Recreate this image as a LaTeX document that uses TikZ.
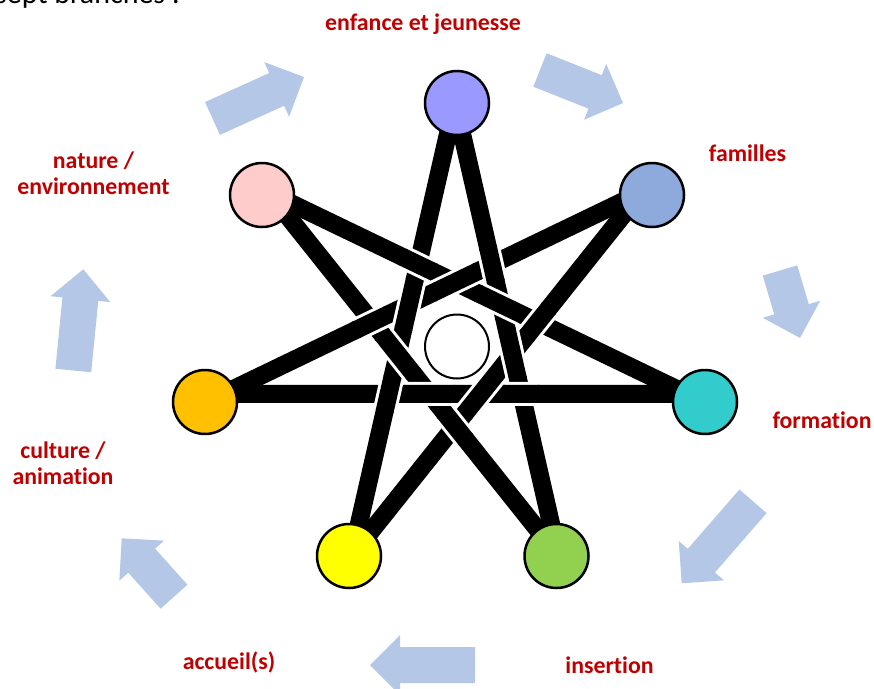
\documentclass[tikz,border=0pt]{standalone}
\usepackage{fontspec}
\setmainfont[Ligatures=NoCommon]{Carlito}
\usetikzlibrary{calc}
\definecolor{labred}{RGB}{192,0,0}
\definecolor{arrblue}{RGB}{180,199,231}
\definecolor{cpurple}{RGB}{153,153,255}
\definecolor{cblue}{RGB}{142,169,219}
\definecolor{cteal}{RGB}{51,204,204}
\definecolor{cgreen}{RGB}{146,208,80}
\definecolor{cyellow}{RGB}{255,255,0}
\definecolor{corange}{RGB}{255,192,0}
\definecolor{cpink}{RGB}{255,204,204}
\newcommand\bluearrow[2]{%
  \path ($(#2)!30pt!(#1)$) coordinate (hb);
  \fill[arrblue] ($(#1)!18pt!90:(#2)$) -- ($(hb)!18pt!90:(#2)$) -- ($(hb)!30pt!90:(#2)$) -- (#2)
    -- ($(hb)!30pt!-90:(#2)$) -- ($(hb)!18pt!-90:(#2)$) -- ($(#1)!18pt!-90:(#2)$) -- cycle;}
\begin{document}
\begin{tikzpicture}[x=1pt,y=-1pt,
  lbl/.style={text=labred, font=\fontsize{23.8}{25.5}\selectfont\bfseries, align=center, inner sep=0pt},
  band/.style={line width=18pt, black},
  casing/.style={line width=24pt, white},
  dot/.style={circle, draw=black, line width=2.5pt, minimum size=64pt, inner sep=0pt}]
\path[use as bounding box] (0,0) rectangle (874,688);
\clip (0,0) rectangle (874,688);

\node[anchor=base west, inner sep=0pt, font=\fontsize{30}{32}\selectfont] (intro) at (-5,4) {sept branches :};

% star vertices
\foreach \k in {0,...,6}
  \coordinate (V\k) at ({455+238*sin(\k*360/7)},{341-238*cos(\k*360/7)});
% bands
\foreach \i in {0,...,6}{
  \pgfmathtruncatemacro\ja{mod(\i+3,7)}
  \draw[casing] (V\i) -- (V\ja);
}
\foreach \i in {0,...,6}{
  \pgfmathtruncatemacro\ja{mod(\i+3,7)}
  \draw[band] (V\i) -- (V\ja);
}
% over crossings
\foreach \i in {0,...,6}{
  \pgfmathtruncatemacro\ja{mod(\i+3,7)}
  \coordinate (XA\i) at ($(V\i)!165.62pt!(V\ja)$);
  \coordinate (XC\i) at ($(V\i)!257.53pt!(V\ja)$);
  \draw[casing] ($(XA\i)!16pt!(V\i)$) -- ($(XA\i)!16pt!(V\ja)$);
  \draw[band] ($(XA\i)!18pt!(V\i)$) -- ($(XA\i)!18pt!(V\ja)$);
  \draw[casing] ($(XC\i)!24pt!(V\i)$) -- ($(XC\i)!24pt!(V\ja)$);
  \draw[band] ($(XC\i)!25.5pt!(V\i)$) -- ($(XC\i)!25.5pt!(V\ja)$);
}

% circles
\node[dot, fill=cpurple] (c0) at (457,103) {};
\node[dot, fill=cblue] (c1) at (652,195) {};
\node[dot, fill=cteal] (c2) at (705,402) {};
\node[dot, fill=cgreen] (c3) at (556.5,556) {};
\node[dot, fill=cyellow] (c4) at (349,556) {};
\node[dot, fill=corange] (c5) at (205,402) {};
\node[dot, fill=cpink] (c6) at (262,195) {};
\node[dot, fill=white, minimum size=64pt, line width=2pt] (ctr) at (457,346.5) {};

% labels
\node[lbl, anchor=base] (l0) at (423,30) {enfance et jeunesse};
\node[lbl, anchor=base] (l1) at (747.5,161.5) {familles};
\node[lbl, anchor=base] (l2) at (822,428) {formation};
\node[lbl, anchor=base] (l3) at (609.5,673.5) {insertion};
\node[lbl, anchor=base] (l4) at (229,669.5) {accueil(s)};
\node[lbl, anchor=base] (l5) at (63,484) {culture /\\animation};
\node[lbl, anchor=base] (l6) at (93.5,194.4) {nature /\\environnement};

% cycle arrows
\coordinate (t1) at (212.5,118.5); \coordinate (h1) at (304,77);
\coordinate (t2) at (540,70);      \coordinate (h2) at (623,103);
\coordinate (t3) at (780,270.5);   \coordinate (h3) at (800,338);
\coordinate (t4) at (753,501.3);   \coordinate (h4) at (681.7,583.3);
\coordinate (t5) at (475,665);     \coordinate (h5) at (370,665);
\coordinate (t6) at (174,596.7);   \coordinate (h6) at (121.7,538.3);
\coordinate (t7) at (73.3,370.5);  \coordinate (h7) at (83.3,269.3);
\bluearrow{t1}{h1}
\bluearrow{t2}{h2}
\bluearrow{t3}{h3}
\bluearrow{t4}{h4}
\bluearrow{t5}{h5}
\bluearrow{t6}{h6}
\bluearrow{t7}{h7}
\end{tikzpicture}
\end{document}
